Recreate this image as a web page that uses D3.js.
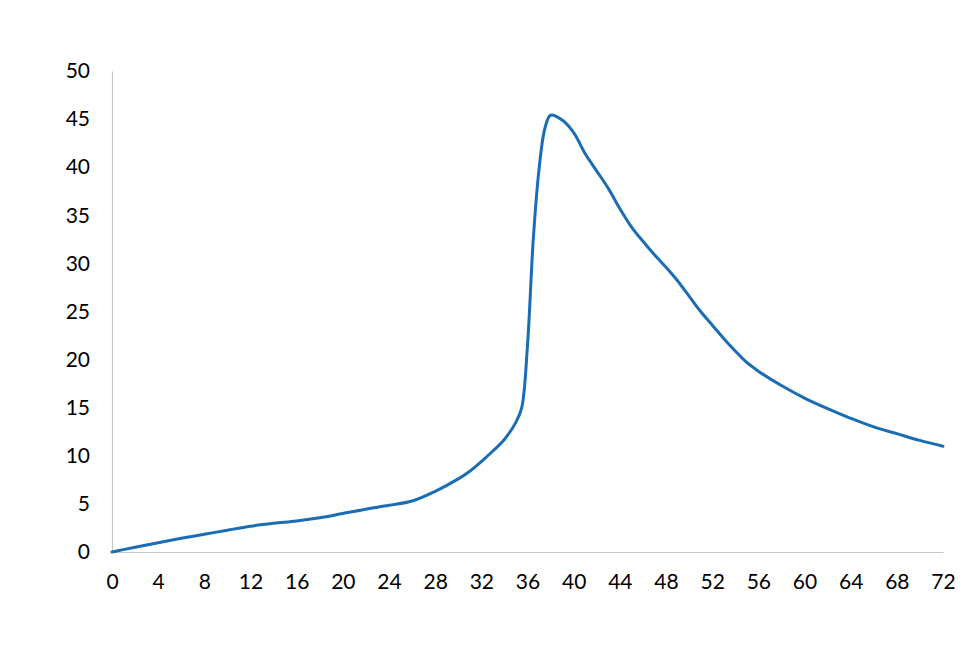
<!DOCTYPE html>
<html>
<head>
<meta charset="utf-8">
<script src="https://cdn.jsdelivr.net/npm/d3@7"></script>
<style>
  html, body { margin: 0; padding: 0; background: #fff; }
  svg text { font-family: Lato, "Open Sans", sans-serif; font-size: 21px; fill: #000; }
</style>
</head>
<body>
<svg id="chart" width="970" height="664"></svg>
<script>
const hours = [0, 2, 4, 6, 8, 10, 12, 14, 16, 18, 20, 22, 24, 26, 28, 30, 31, 32, 33, 34, 35, 35.5, 36, 36.5, 37, 37.5, 38, 39, 40, 41, 42, 43, 44, 45, 46, 47, 48, 49, 50, 51, 52, 53, 54, 55, 56, 58, 60, 62, 64, 66, 68, 70, 72];
const values = [0, 0.5, 0.97, 1.42, 1.84, 2.27, 2.68, 2.98, 3.22, 3.55, 4.0, 4.45, 4.85, 5.3, 6.3, 7.6, 8.4, 9.4, 10.5, 11.7, 13.5, 15.0, 21.5, 32.5, 39.8, 44.0, 45.4, 44.9, 43.6, 41.4, 39.6, 37.8, 35.7, 33.8, 32.3, 30.9, 29.6, 28.2, 26.6, 25.0, 23.6, 22.2, 20.9, 19.7, 18.8, 17.3, 16.0, 14.9, 13.9, 13.0, 12.3, 11.6, 11.0];
const xTicks = d3.range(0, 73, 4);
const yTicks = d3.range(0, 51, 5);

const svg = d3.select("#chart");
const x = d3.scaleLinear().domain([0, 72]).range([112, 943]);
const y = d3.scaleLinear().domain([0, 50]).range([552, 71]);

const xAxis = svg.append("g").attr("transform", "translate(0,552)")
  .call(d3.axisBottom(x).tickValues(xTicks).tickSize(0).tickPadding(22).tickFormat(d3.format("d")));
xAxis.select(".domain").attr("stroke", "#c6c6c6").attr("stroke-width", 1.2);
xAxis.selectAll("text").attr("dy", "0.71em").style("font-size", "21px");

const yAxis = svg.append("g").attr("transform", "translate(112,0)")
  .call(d3.axisLeft(y).tickValues(yTicks).tickSize(0).tickPadding(22).tickFormat(d3.format("d")));
yAxis.select(".domain").attr("stroke", "#c6c6c6").attr("stroke-width", 1.2);
yAxis.selectAll("text").style("font-size", "21px");

svg.selectAll("g text").attr("fill", "#000").style("font-family", "Lato, 'Open Sans', sans-serif");

const data = hours.map((h, i) => [h, values[i]]);
const line = d3.line().x(d => x(d[0])).y(d => y(d[1])).curve(d3.curveCatmullRom.alpha(0.5));
svg.append("path").datum(data)
  .attr("d", line)
  .attr("fill", "none")
  .attr("stroke", "#1a6db5")
  .attr("stroke-width", 3)
  .attr("stroke-linejoin", "round")
  .attr("stroke-linecap", "round");
</script>
</body>
</html>
